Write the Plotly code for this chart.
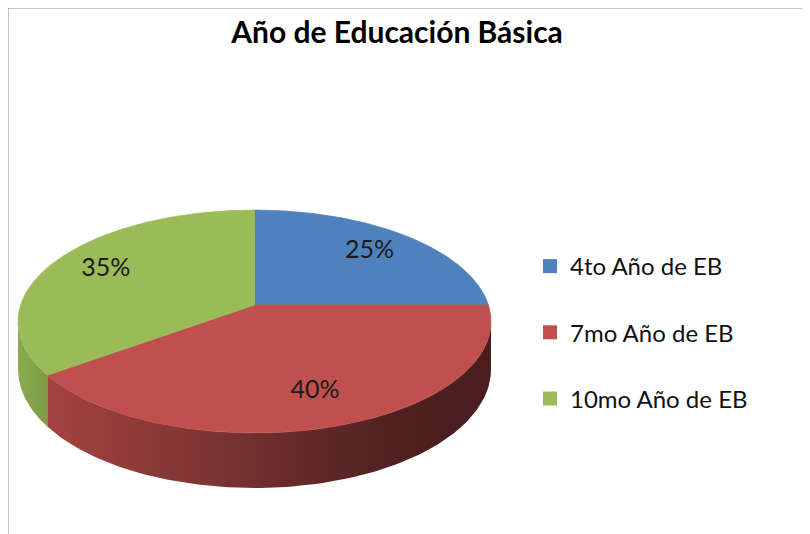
import numpy as np
import plotly.graph_objects as go

# ---- data ----
title_text = "Año de Educación Básica"
categories = ["4to Año de EB", "7mo Año de EB", "10mo Año de EB"]
values = [25, 40, 35]
top_colors = ["#4F81BD", "#C0504D", "#9BBB59"]
side_colorscales = [
    [[0, "#3a5f8c"], [1, "#2a4466"]],
    [[0, "#a4433f"], [0.35, "#7e3533"], [0.65, "#5c2626"], [0.85, "#4c1f1f"], [1, "#4a1e1e"]],
    [[0, "#8bab4f"], [1, "#7e9b45"]],
]

# ---- geometry (style) ----
OFF = 8                    # page body margin
W, H = 810, 534            # window size
FW, FH = W - OFF, H - OFF  # figure size so it fits the window
CX, CY = 254.5, 305.0      # projected pie centre (window pixels)
R, S = 233.9, 109.0        # horizontal / depth radii
K = 0.148                  # perspective factor
D = 46.9                   # thickness
LABEL_R = 0.75
FONT = "Lato, 'Open Sans', Arial, sans-serif"


def px(p):
    return (p - OFF) / FW


def py(p):
    return 1 - (p - OFF) / FH


def proj(theta, r=1.0, drop=0.0):
    u = r * np.sin(theta)
    v = r * np.cos(theta)
    d = 1 + K * v
    return CX + R * u / d, CY - S * v / d + drop / d


total = float(sum(values))
fracs = [v / total for v in values]
starts = np.concatenate([[0.0], np.cumsum(fracs)[:-1]]) * 2 * np.pi
ends = np.cumsum(fracs) * 2 * np.pi

th_lo = np.arccos(-K)
th_hi = 2 * np.pi - th_lo

fig = go.Figure()

# side walls
for a, b, cs in zip(starts, ends, side_colorscales):
    s, e = max(a, th_lo), min(b, th_hi)
    if s < e:
        t = np.linspace(s, e, 160)
        xt, yt = proj(t)
        xb, yb = proj(t[::-1], drop=D)
        xs = np.concatenate([xt, xb, xt[:1]])
        ys = np.concatenate([yt, yb, yt[:1]])
        fig.add_trace(go.Scatter(
            x=xs, y=ys, mode="lines", fill="toself",
            fillgradient=dict(type="horizontal", colorscale=cs),
            line=dict(width=0), showlegend=False, hoverinfo="skip"))

# top faces
for a, b, c in zip(starts, ends, top_colors):
    t = np.linspace(a, b, 200)
    xa, ya = proj(t)
    xs = np.concatenate([[CX], xa, [CX]])
    ys = np.concatenate([[CY], ya, [CY]])
    fig.add_trace(go.Scatter(
        x=xs, y=ys, mode="lines", fill="toself", fillcolor=c,
        line=dict(width=0.8, color=c), showlegend=False, hoverinfo="skip"))

# percentage labels
mids = (starts + ends) / 2
lx, ly = proj(mids, r=LABEL_R)
fig.add_trace(go.Scatter(
    x=lx, y=ly, mode="text",
    text=[f"{round(f * 100)}%" for f in fracs],
    textfont=dict(family=FONT, size=25, color="#1a1a1a"),
    showlegend=False, hoverinfo="skip"))

# legend entries
for name, c in zip(categories, top_colors):
    fig.add_trace(go.Scatter(
        x=[None], y=[None], mode="markers", name=name, legendgroup=name,
        marker=dict(symbol="square", size=14, color=c)))

fig.update_layout(
    width=FW, height=FH,
    margin=dict(l=0, r=0, t=0, b=0),
    paper_bgcolor="white", plot_bgcolor="white",
    xaxis=dict(range=[OFF, W], visible=False, fixedrange=True),
    yaxis=dict(range=[H, OFF], visible=False, fixedrange=True),
    title=dict(text=f"<b>{title_text}</b>", x=px(397), xanchor="center",
               y=py(32), yanchor="middle",
               font=dict(family=FONT, size=30, color="#000000")),
    legend=dict(x=px(530), y=py(244), xanchor="left", yanchor="top",
                font=dict(family=FONT, size=24, color="#111111"),
                tracegroupgap=32, bgcolor="rgba(0,0,0,0)",
                itemclick=False, itemdoubleclick=False),
    shapes=[dict(type="rect", xref="paper", yref="paper",
                 x0=px(7.5), x1=1.05, y0=-0.05, y1=py(7.5),
                 line=dict(color="#8a8a8a", width=2), fillcolor="rgba(0,0,0,0)")],
    showlegend=True,
)

fig.write_html("out.html")
